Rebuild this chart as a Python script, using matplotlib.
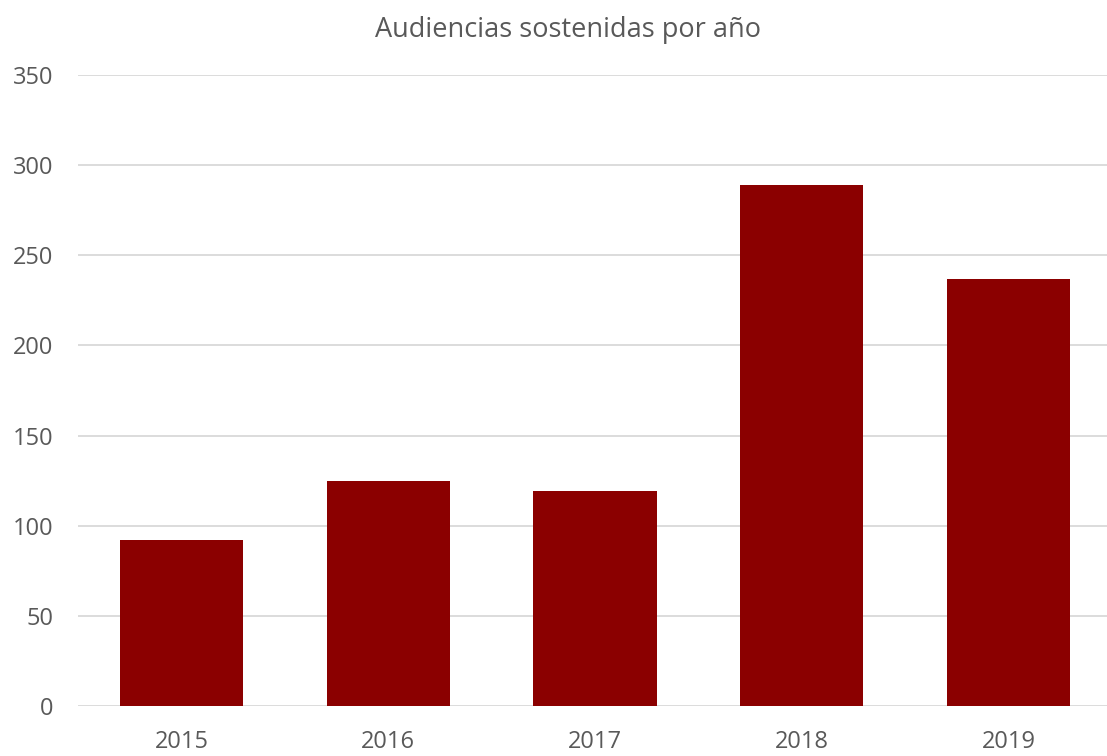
import matplotlib.pyplot as plt

# audiencias por año
anios = ["2015", "2016", "2017", "2018", "2019"]
audiencias = [92, 125, 119, 289, 237]

plt.rcParams['font.family'] = ['Open Sans', 'DejaVu Sans']

fig = plt.figure(figsize=(11.07, 7.56), dpi=100)
ax = fig.add_axes([0.0705, 0.0661, 0.934, 0.8347])

x = range(len(anios))
ax.bar(x, audiencias, width=0.595, color="#8B0000", zorder=3)

ax.set_xlim(-0.5, 4.5)
ax.set_ylim(0, 350)
ax.set_yticks(range(0, 351, 50))
ax.set_xticks(list(x))
ax.set_xticklabels(anios)

ax.grid(axis="y", color="#d9d9d9", linewidth=1.3, zorder=0)
for s in ax.spines.values():
    s.set_visible(False)
ax.tick_params(axis="both", length=0, labelsize=17, colors="#595959")
ax.tick_params(axis="y", pad=18)
ax.tick_params(axis="x", pad=17)

fig.text(0.513, 0.96, "Audiencias sostenidas por año", ha="center", va="center",
         fontsize=19.5, color="#595959")

fig.savefig("out.png", dpi=100, facecolor="white")
